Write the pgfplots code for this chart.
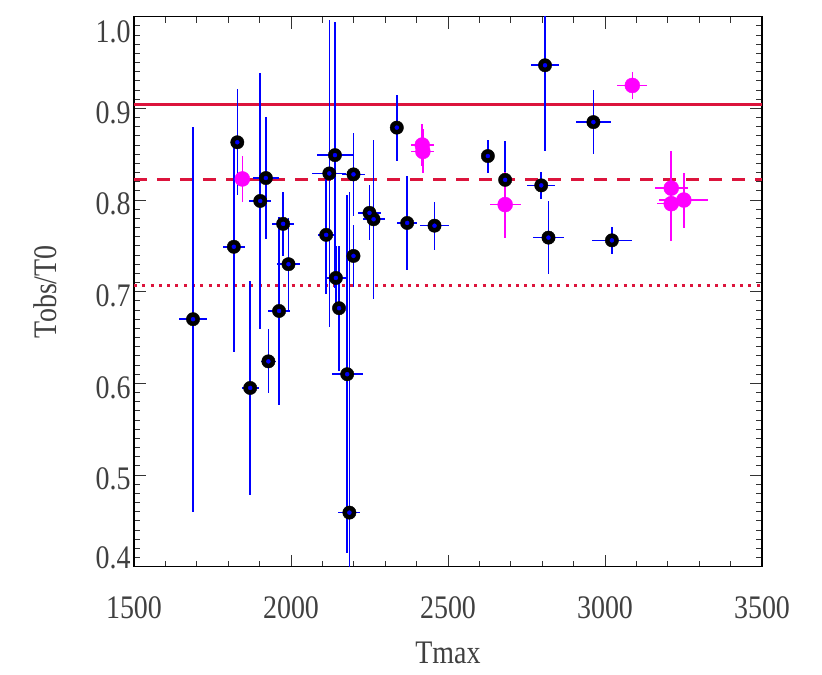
\documentclass[border=0pt]{standalone}
\usepackage{fontspec}
\setmainfont{Liberation Serif}[FakeStretch=0.85]
\usepackage{pgfplots}
\usepackage{pgfplotstable}
\pgfplotsset{compat=1.18}
\definecolor{lred}{RGB}{220,20,60}
\definecolor{ptblue}{RGB}{0,0,255}
\definecolor{ptmag}{RGB}{255,0,255}
\definecolor{txt}{RGB}{64,64,64}

\pgfplotstableread{
x y ex ey
1688 0.670 45 0.210
1818 0.749 36 0.115
1829 0.863 21 0.058
1870 0.595 27 0.117
1902 0.799 35 0.140
1920 0.824 42 0.067
1928 0.624 24 0.035
1962 0.679 35 0.103
1975 0.774 36 0.035
1992 0.730 37 0.050
2112 0.762 27 0.064
2122 0.829 54 0.167
2140 0.849 57 0.145
2143 0.715 31 0.035
2153 0.682 15 0.068
2179 0.610 50 0.195
2186 0.459 35 0.350
2199 0.828 37 0.045
2199 0.739 15 0.034
2250 0.786 36 0.030
2263 0.779 35 0.087
2337 0.879 12 0.036
2370 0.775 32 0.051
2457 0.772 45 0.026
2627 0.848 10 0.018
2682 0.822 20 0.042
2797 0.816 44 0.015
2809 0.947 46 0.094
2820 0.759 49 0.040
2963 0.885 55 0.035
3022 0.756 65 0.015
}\blackdata

\pgfplotstableread{
x y ex ey
1845 0.823 22 0.025
2418 0.860 37 0.023
2420 0.853 37 0.024
2682 0.795 49 0.036
3087 0.925 48 0.015
3211 0.813 53 0.040
3211 0.796 45 0.041
3251 0.800 78 0.030
}\magdata

\begin{document}
\begin{tikzpicture}
\useasboundingbox (-134bp,-108.3bp) rectangle (688bp,566.7bp);
\begin{axis}[
  at={(0,0)}, anchor=south west,
  scale only axis, width=628bp, height=550bp,
  xmin=1500, xmax=3500, ymin=0.4, ymax=1.0,
  xtick={1500,2000,2500,3000,3500}, minor x tick num=4,
  ytick={0.4,0.5,0.6,0.7,0.8,0.9,1.0}, minor y tick num=9,
  yticklabels={,0.5,0.6,0.7,0.8,0.9,},
  extra y ticks={0.4095,0.984},
  extra y tick labels={0.4,1.0},
  extra y tick style={major tick length=0pt, yticklabel style={yshift=4bp}},
  tick align=inside,
  major tick length=12bp, minor tick length=6bp,
  every tick/.style={black!80, line width=0.8bp},
  axis line style={line width=1.2bp},
  /pgf/number format/assume math mode=true,
  tick label style={font=\fontsize{33}{36}\selectfont, text=txt},
  label style={font=\fontsize{33}{36}\selectfont, text=txt},
  yticklabel style={anchor=east, yshift=-4bp},
  xticklabel style={/pgf/number format/1000 sep={}, anchor=center, yshift=-41bp},
  xlabel={Tmax}, ylabel={Tobs/T0},
  xlabel style={at={(axis description cs:0.5,-0.157)}, anchor=center},
  ylabel style={at={(axis description cs:-0.1417,0.5)}, anchor=center},
]
\addplot[lred, line width=3bp] coordinates {(1500,0.9037) (3500,0.9037)};
\addplot[lred, line width=3bp, dash pattern=on 13bp off 10bp] coordinates {(1500,0.822) (3500,0.822)};
\addplot[lred, line width=3bp, dash pattern=on 3bp off 5.3bp] coordinates {(1500,0.7071) (3500,0.7071)};

\addplot[only marks, mark=*, mark size=6.7bp, black, mark options={fill=black}] table[x=x, y=y] {\blackdata};
\addplot[only marks, mark=none, ptblue,
  error bars/.cd, x dir=both, x explicit, y dir=both, y explicit,
  error mark=none, error bar style={ptblue, line width=1.6bp}]
  table[x=x, y=y, x error=ex, y error=ey] {\blackdata};

\addplot[only marks, mark=*, mark size=7.5bp, ptmag, mark options={fill=ptmag, draw=ptmag},
  error bars/.cd, x dir=both, x explicit, y dir=both, y explicit,
  error mark=none, error bar style={ptmag, line width=1.6bp}]
  table[x=x, y=y, x error=ex, y error=ey] {\magdata};
\end{axis}
\end{tikzpicture}
\end{document}
